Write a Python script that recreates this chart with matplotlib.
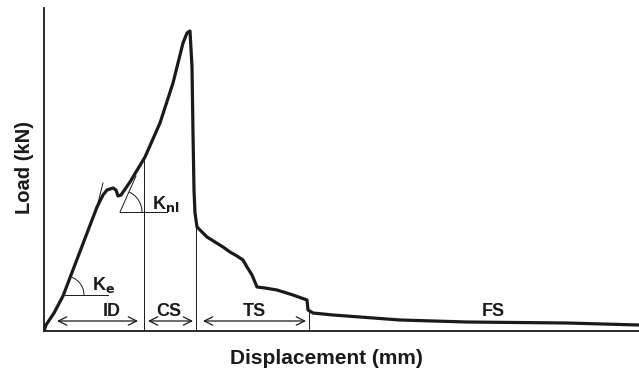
import numpy as np
import matplotlib
matplotlib.use('Agg')
import matplotlib.pyplot as plt
from matplotlib.patches import Arc

# load-displacement trace (arbitrary units)
disp = [0, 2, 10, 19, 53, 59, 63, 69, 72, 74, 77, 86, 101, 116, 129, 139, 143, 146,
        148, 149, 150, 151, 153, 158, 163, 171, 179, 186, 193, 199, 203, 208, 213,
        221, 233, 249, 263, 264, 269, 289, 316, 356, 423, 523, 595]
load = [0, 6, 18, 35, 124, 136, 141, 143, 141, 135, 136, 149, 174, 208, 248, 288, 298, 300,
        264, 198, 141, 118, 104, 99, 94, 89, 84, 79, 75, 71, 64, 56, 44,
        43, 41, 36, 31, 21, 18, 16, 14, 11, 9, 8, 6]

# stage boundaries and labels
bounds = [100, 152, 265]
stages = ['ID', 'CS', 'TS', 'FS']
stage_spans = [(13, 94), (104, 149), (159, 262)]
stage_label_x = [68, 125, 210, 449]

plt.rcParams['font.family'] = ['Liberation Sans', 'DejaVu Sans']
ink = '#1a1a1a'

fig = plt.figure(figsize=(6.39, 3.69), dpi=100)
ax = fig.add_axes([44/639, 38/369, 595/639, 323/369])
ax.set_xlim(0, 595)
ax.set_ylim(0, 323)

ax.plot(disp, load, color=ink, lw=2.3, solid_joinstyle='round')

# vertical boundaries
for b in bounds:
    ax.plot([b, b], [0, np.interp(b, disp, load)], color=ink, lw=0.7)

# double arrows
for (x0, x1) in stage_spans:
    ax.annotate('', xy=(x0, 10), xytext=(x1, 10),
                arrowprops=dict(arrowstyle='<->', lw=0.9, color=ink,
                                mutation_scale=15, shrinkA=0, shrinkB=0))
for lab, lx in zip(stages, stage_label_x):
    ax.text(lx, 11, lab, ha='center', va='bottom', fontsize=13, fontweight='bold', color=ink)

# elastic stiffness Ke
ax.plot([21, 64], [36, 36], color=ink, lw=0.7)
ax.add_patch(Arc((21, 36), 38, 38, theta1=0, theta2=69, color=ink, lw=0.7))
ax.text(48, 41, r'K$_\mathbf{e}$', fontsize=13, fontweight='bold', color=ink)
ax.plot([53, 59], [124, 148], color=ink, lw=0.7)

# nonlinear stiffness Knl
ax.plot([76, 123], [119, 119], color=ink, lw=0.7)
ax.plot([76, 92], [119, 155], color=ink, lw=0.7)
ax.add_patch(Arc((76, 119), 44, 44, theta1=0, theta2=66, color=ink, lw=0.7))
ax.text(108, 122, r'K$_\mathbf{nl}$', fontsize=13, fontweight='bold', color=ink)

for s in ['top', 'right']:
    ax.spines[s].set_visible(False)
for s in ['left', 'bottom']:
    ax.spines[s].set_linewidth(1.3)
    ax.spines[s].set_color(ink)
ax.set_xticks([])
ax.set_yticks([])
fig.text(326/639, 1 - 359/369, 'Displacement (mm)', ha='center', va='center',
         fontsize=15, fontweight='bold', color=ink)
fig.text(24/639, 1 - 167/369, 'Load (kN)', ha='center', va='center', rotation=90,
         fontsize=14.5, fontweight='bold', color=ink)

fig.savefig('out.png', dpi=100)
